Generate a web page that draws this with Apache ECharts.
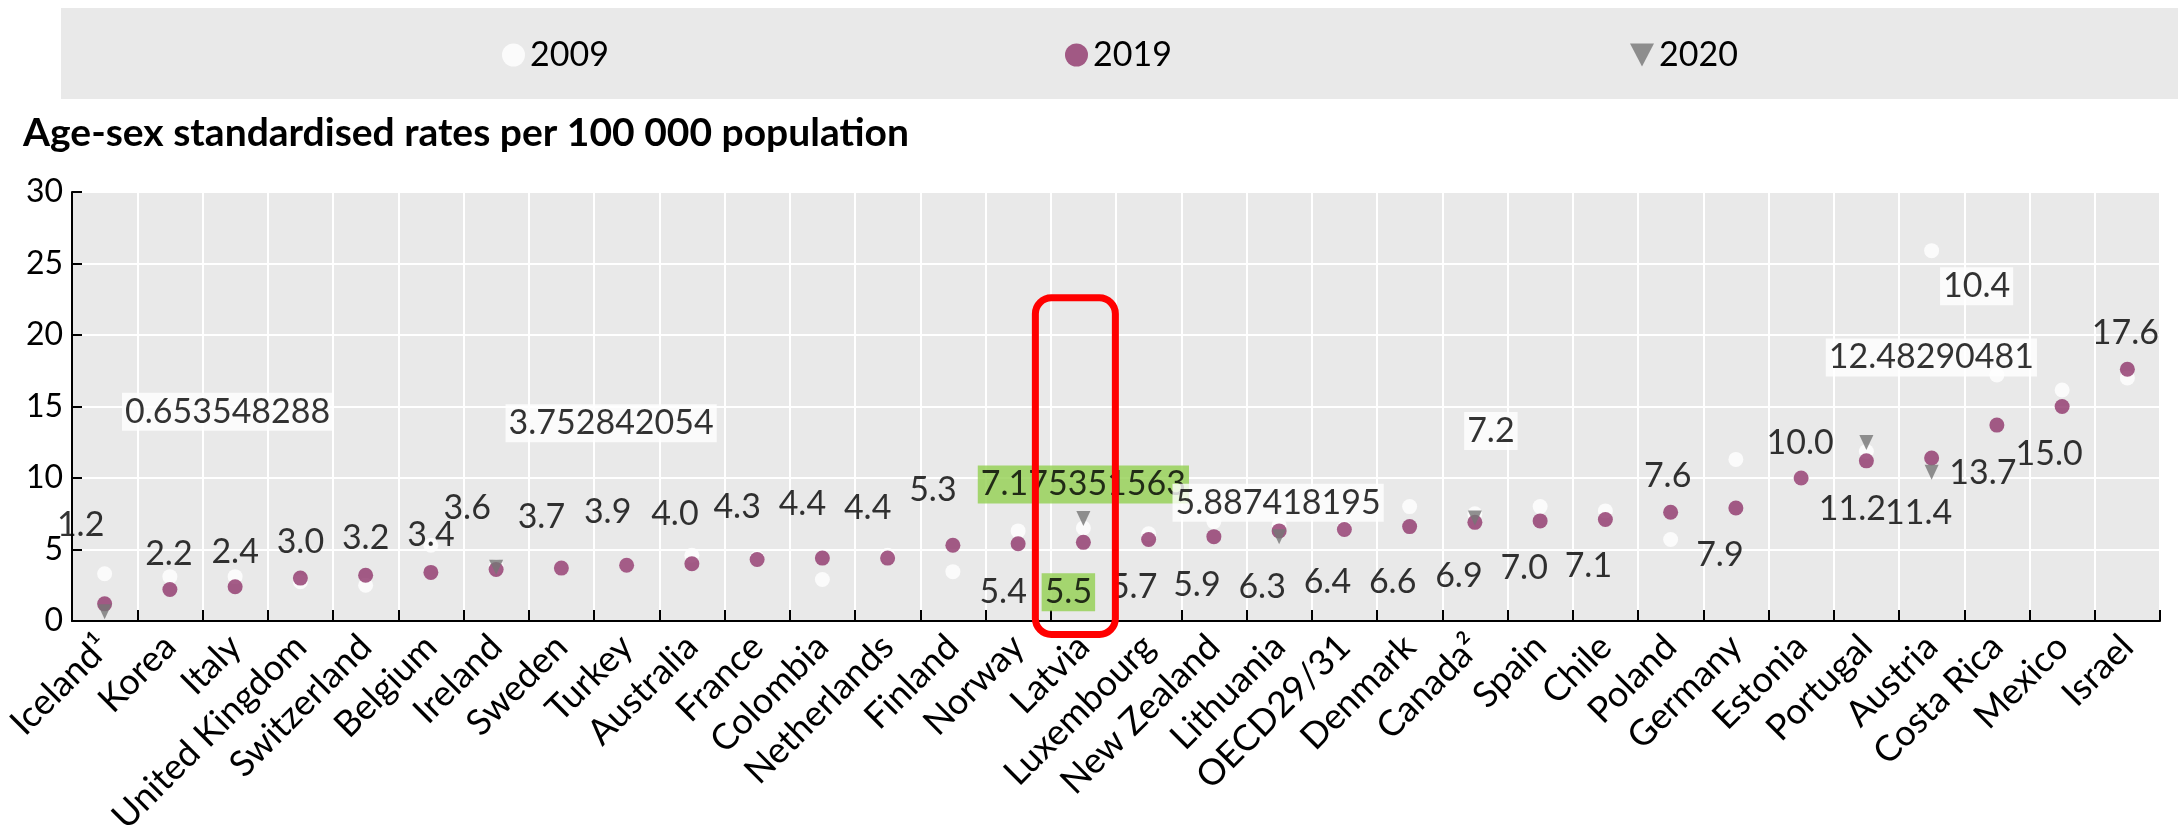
<!DOCTYPE html>
<html><head><meta charset="utf-8">
<script src="https://cdn.jsdelivr.net/npm/echarts@6/dist/echarts.min.js"></script>
<style>html,body{margin:0;padding:0;background:#fff}#c{width:2178px;height:829px}</style>
</head><body><div id="c"></div>
<script>
const categories = ['Iceland¹','Korea','Italy','United Kingdom','Switzerland','Belgium','Ireland','Sweden','Turkey','Australia','France','Colombia','Netherlands','Finland','Norway','Latvia','Luxembourg','New Zealand','Lithuania','OECD29/31','Denmark','Canada²','Spain','Chile','Poland','Germany','Estonia','Portugal','Austria','Costa Rica','Mexico','Israel'];
const values2009 = [3.3,3.1,3.1,2.75,2.5,5.3,3.8,3.7,3.9,4.6,4.4,2.9,4.6,3.45,6.3,6.5,6.1,6.95,6.7,6.5,8.0,7.5,8.0,7.7,5.7,11.3,10.0,11.85,25.9,17.2,16.15,17.0];
const values2019 = [1.2,2.2,2.4,3.0,3.2,3.4,3.6,3.7,3.9,4.0,4.3,4.4,4.4,5.3,5.4,5.5,5.7,5.9,6.3,6.4,6.6,6.9,7.0,7.1,7.6,7.9,10.0,11.2,11.4,13.7,15.0,17.6];
const values2020 = [0.653548288,null,null,null,null,null,3.752842054,null,null,null,null,null,null,null,null,7.175351563,null,null,5.887418195,null,null,7.2,null,null,null,null,null,12.48290481,10.4,null,null,null];
const seriesNames = ['2009','2019','2020'];
const highlightCategory = 'Latvia';

// label placement (layout only)
const labelOffsets2019 = [[-24,-79],[-1,-36],[0,-35],[0,-36],[0,-37],[0,-37],[-29,-61],[-20,-51],[-19,-53],[-17,-50],[-20,-52],[-20,-54],[-20,-50],[-20,-55],[-15,48],[-15,50],[-15,48],[-17,48],[-17,56],[-17,53],[-17,55],[-16,54],[-16,47],[-17,47],[-3,-36],[-16,47],[-1,-35],[-14,48],[-13,55],[-14,48],[-13,48],[-2,-36]];
const labelOffsets2020 = {0:[123,-200],6:[115,-144],15:[0,-34],18:[-1,-34],21:[16,-87],27:[65,-85],28:[45,-186]};

const FONT = 'Lato';
const PURPLE = '#8f356a';
const GREY = '#767676';
const GREEN = '#92d050';
const BG = '#e9e9e9';
const hi = categories.indexOf(highlightCategory);

const data2019 = values2019.map((v,i)=>({
  value: v,
  label: Object.assign({offset: labelOffsets2019[i]}, i===hi ? {backgroundColor: GREEN, padding:[2,3]} : {})
}));
const data2020 = values2020.map((v,i)=> v==null ? null : ({
  value: v,
  label: {offset: labelOffsets2020[i] || [0,-34], backgroundColor: i===hi ? GREEN : '#fff', padding:[2,3]}
}));

const chart = echarts.init(document.getElementById('c'), null, {renderer:'canvas'});
const txt = {fontFamily: FONT, fontSize: 34, color: '#000'};
const band = {type:'rect', left:61, top:8, shape:{width:2117, height:91}, style:{fill:BG}, z:-10, silent:true};
chart.setOption({
  animation: false,
  textStyle: {fontFamily: FONT},
  graphic: [band],
  title: {text: 'Age-sex standardised rates per 100 000 population', left: 18, top: 109,
    textStyle: {fontFamily: FONT, fontWeight: 'bold', fontSize: 39, color: '#000'}},
  legend: [
    {data:[{name:'2009', icon:'circle'}], left: 497, top: 33, itemWidth: 23, itemHeight: 23, textStyle: txt},
    {data:[{name:'2019', icon:'circle'}], left: 1060, top: 33, itemWidth: 23, itemHeight: 23, textStyle: txt},
    {data:[{name:'2020', icon:'path://M0,0L24,0L12,23Z'}], left: 1625, top: 33, itemWidth: 24, itemHeight: 23, textStyle: txt}
  ],
  grid: {left: 72, right: 18, top: 192, bottom: 208, show: true, backgroundColor: BG, borderWidth: 0,
    containLabel: false, outerBoundsMode: 'none'},
  xAxis: {
    type: 'category', data: categories, boundaryGap: true,
    axisLine: {show:true, onZero:false, lineStyle:{color:'#000', width:2}},
    axisTick: {show:true, inside:true, length:11, interval:0, lineStyle:{color:'#000', width:2}},
    splitLine: {show:true, interval:0, lineStyle:{color:'#fff', width:2}},
    axisLabel: {interval:0, rotate:45, margin:20, fontFamily: FONT, fontSize: 36, color:'#000'}
  },
  yAxis: {
    type: 'value', min: 0, max: 30, interval: 5,
    axisLine: {show:true, lineStyle:{color:'#000', width:2}},
    axisTick: {show:true, inside:true, length:10, lineStyle:{color:'#000', width:2}},
    splitLine: {show:true, lineStyle:{color:'#fff', width:2}},
    axisLabel: {margin: 9, fontFamily: FONT, fontSize: 32, color:'#000'}
  },
  series: [
    {name: seriesNames[0], type:'scatter', data: values2009, symbol:'circle', symbolSize:15,
     itemStyle:{color:'#fff'}, z:2},
    {name: seriesNames[1], type:'scatter', data: data2019, symbol:'circle', symbolSize:15,
     itemStyle:{color:PURPLE}, z:3,
     label:{show:true, position:'inside', formatter: p => p.value.toFixed(1), fontFamily: FONT, fontSize: 34, color:'#000', lineHeight: 34}},
    {name: seriesNames[2], type:'scatter', data: data2020, symbol:'triangle', symbolRotate:180, symbolSize:[14,15],
     itemStyle:{color:GREY}, z:4,
     label:{show:true, position:'inside', formatter: p => String(p.value), fontFamily: FONT, fontSize: 34, color:'#000', lineHeight: 34}}
  ]
});

// highlight frame around the selected category, placed from the axis scales
const cx = chart.convertToPixel({xAxisIndex:0}, highlightCategory);
const y0 = chart.convertToPixel({yAxisIndex:0}, 0);
const yTop = chart.convertToPixel({yAxisIndex:0}, 22.6);
chart.setOption({graphic: [
  band,
  {type:'rect', z:100, silent:true,
   shape:{x: cx-48, y: yTop, width: 80, height: (y0+13.5)-yTop, r: 16},
   style:{fill:'none', stroke:'#ff0000', lineWidth:7}}
]});
</script>
</body></html>
